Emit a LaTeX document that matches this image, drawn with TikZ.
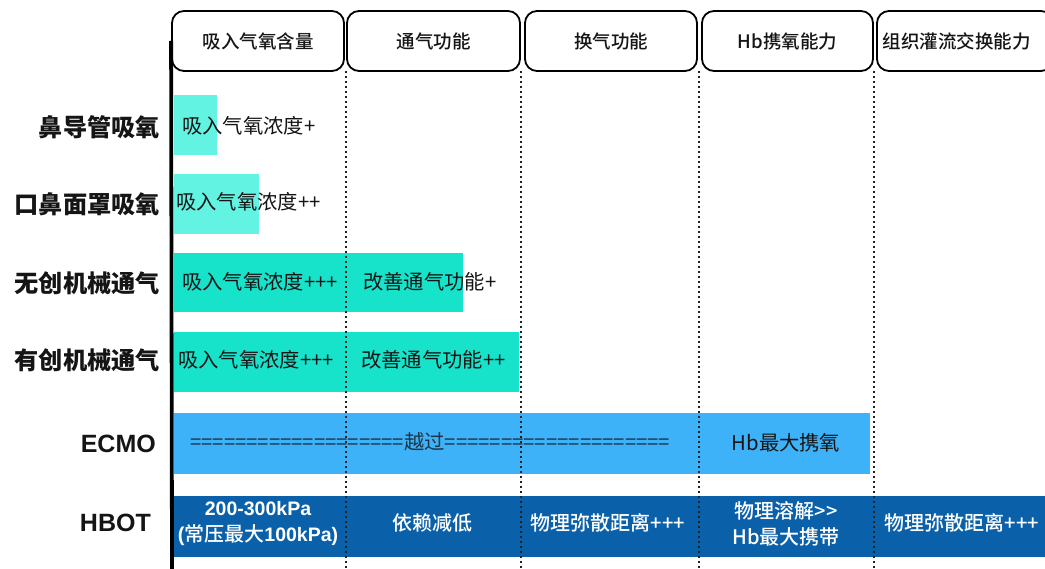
\documentclass[tikz,border=0pt]{standalone}
\usepackage{fontspec}
\setmainfont{Noto Sans CJK SC}
\newfontfamily\cjkmed{Noto Sans CJK SC Medium}
\newfontfamily\helv{Liberation Sans}
\definecolor{aqualight}{HTML}{62F3E2}
\definecolor{aquadeep}{HTML}{17E2CA}
\definecolor{ecmoblue}{HTML}{3EB2F8}
\definecolor{hbotblue}{HTML}{0B60AA}
\definecolor{dotgray}{HTML}{222222}
\definecolor{txt}{HTML}{151515}
\begin{document}
\begin{tikzpicture}[x=1pt,y=-1pt,
  hdr/.style={draw, line width=1.8pt, rounded corners=12pt, minimum height=60pt, inner sep=0pt, fill=white, font=\fontsize{18.5}{22}\selectfont\cjkmed, text=txt},
  rowlab/.style={anchor=east, inner sep=0pt, font=\fontsize{24.2}{28}\selectfont\bfseries, text=txt},
  latlab/.style={anchor=east, inner sep=0pt, font=\fontsize{25}{28}\selectfont\helv\bfseries, text=txt},
  barbox/.style={inner sep=0pt, draw=none},
  bartxt/.style={inner sep=0pt, font=\fontsize{20.3}{24}\selectfont, text=txt},
  hbtxt/.style={inner sep=0pt, align=center, font=\fontsize{20}{26}\selectfont\cjkmed, text=white},
  dotline/.style={draw=dotgray, line width=2pt, dash pattern=on 2pt off 3pt}
]
\useasboundingbox (0,0) rectangle (1045,569);

% bars
\node[barbox, fill=aqualight, minimum width=43pt, minimum height=60pt] (b1) at (195.5,125) {};
\node[barbox, fill=aqualight, minimum width=85pt, minimum height=60pt] (b2) at (216.5,204) {};
\node[barbox, fill=aquadeep, minimum width=289pt, minimum height=59pt] (b3) at (318.5,282.5) {};
\node[barbox, fill=aquadeep, minimum width=345pt, minimum height=60pt] (b4) at (346.5,362) {};
\node[barbox, fill=ecmoblue, minimum width=696pt, minimum height=61pt] (b5) at (522,443.5) {};
\node[barbox, fill=hbotblue, minimum width=875pt, minimum height=61pt] (b6) at (609.5,526.5) {};

% headers
\node[hdr, minimum width=172pt] (h1) at (258,41) {吸入气氧含量};
\node[hdr, minimum width=173pt] (h2) at (433.5,41) {通气功能};
\node[hdr, minimum width=172pt] (h3) at (611,41) {换气功能};
\node[hdr, minimum width=171pt] (h4) at (787.5,41) {Hb携氧能力};
\node[hdr, minimum width=176pt, text width=165pt, align=left] (h5) at (965,41) {组织灌流交换能力};

% separators
\coordinate (e1) at (345.5,569);
\coordinate (e2) at (521,569);
\coordinate (e3) at (699,569);
\coordinate (e4) at (873.5,569);
\coordinate (e0) at (172,569);
\draw[dotline] (345.5,71) -- (e1);
\draw[dotline] (521,71) -- (e2);
\draw[dotline] (699,71) -- (e3);
\draw[dotline] (873.5,71) -- (e4);
\draw[line width=3.8pt] (h1.west) -- (e0);

% row labels
\node[rowlab] (r1) at (160,127) {鼻导管吸氧};
\node[rowlab] (r2) at (160,204) {口鼻面罩吸氧};
\node[rowlab] (r3) at (160,283) {无创机械通气};
\node[rowlab] (r4) at (160,360) {有创机械通气};
\node[latlab] (r5) at (156,444) {ECMO};
\node[latlab] (r6) at (151,523) {HBOT};

% bar texts
\node[bartxt, anchor=west] (t1) at (182,126) {吸入气氧浓度+};
\node[bartxt, anchor=west] (t2) at (176,202) {吸入气氧浓度++};
\node[bartxt, anchor=west] (t3a) at (182,282) {吸入气氧浓度+++};
\node[bartxt, anchor=west] (t3b) at (363,282) {改善通气功能+};
\node[bartxt, anchor=west] (t4a) at (178,360) {吸入气氧浓度+++};
\node[bartxt, anchor=west] (t4b) at (361,360) {改善通气功能++};
\node[bartxt, anchor=west, text=txt!80!ecmoblue] (t5a) at (190,442) {===================越过====================};
\node[bartxt] (t5b) at (786,443) {Hb最大携氧};

\node[hbtxt] (t6a) at (258,524) {{\helv\bfseries\fontsize{19.5}{26}\selectfont 200-300kPa}\\{\helv\bfseries (}常压最大{\helv\bfseries\fontsize{19.5}{26}\selectfont 100kPa)}};
\node[hbtxt] (t6b) at (432,523) {依赖减低};
\node[hbtxt] (t6c) at (608,523) {物理弥散距离+++};
\node[hbtxt] (t6d) at (786,524) {物理溶解{>}{>}\\Hb最大携带};
\node[hbtxt] (t6e) at (962,523) {物理弥散距离+++};
\end{tikzpicture}
\end{document}
